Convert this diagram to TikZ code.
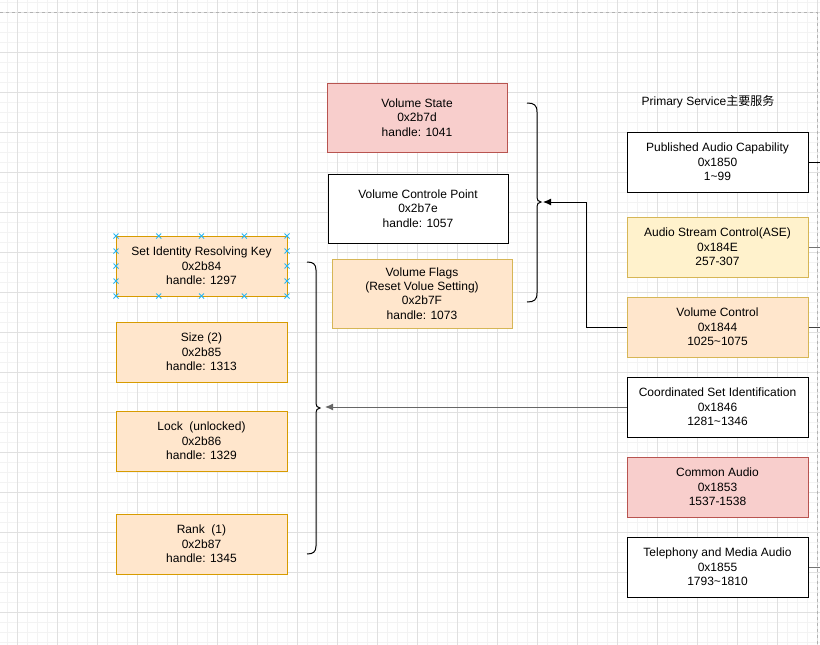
\documentclass[tikz,border=0pt]{standalone}
\usepackage{fontspec}
\setmainfont{Liberation Sans}
\newfontfamily\cjk{Noto Sans CJK SC}
\usepackage{xcolor}
\usetikzlibrary{arrows.meta}
\usetikzlibrary{math}
\definecolor{redfill}{HTML}{F8CECC}
\definecolor{redline}{HTML}{B85450}
\definecolor{orangefill}{HTML}{FFE6CC}
\definecolor{orangeline}{HTML}{D79B00}
\definecolor{yellowfill}{HTML}{FFF2CC}
\definecolor{yellowline}{HTML}{D6B656}
\definecolor{handleblue}{HTML}{29B6F2}
\definecolor{gridmajor}{HTML}{E0E0E0}
\definecolor{gridminor}{HTML}{F3F3F3}

\begin{document}
\begin{tikzpicture}[x=1pt,y=-1pt,
  box/.style={draw, line width=1pt, align=center, inner sep=0pt,
    minimum width=180pt, minimum height=69pt, font=\fontsize{12}{14.3}\selectfont},
  svcbox/.style={box, minimum width=181pt, minimum height=60pt},
  charbox/.style={box, minimum width=171pt, minimum height=60pt},
  redbox/.style={fill=redfill, draw=redline},
  orangebox/.style={fill=orangefill, draw=orangeline},
  peachbox/.style={fill=orangefill, draw=yellowline},
  yellowbox/.style={fill=yellowfill, draw=yellowline},
  whitebox/.style={fill=white, draw=black},
  conn/.style={line width=1pt, -{Latex[length=8pt,width=7pt]}},
  brace/.style={line width=1pt},
  handle/.style={draw=handleblue, line width=0.8pt}
]
\tikzmath{
\W=820;
\H=645;
}
\useasboundingbox (0,0) rectangle (\W,\H);
\fill[white] (0,0) rectangle (\W,\H);

%grid
\foreach \i in {0,...,81}
  \draw[gridminor, line width=0.7pt] (\i*10+7,0) -- (\i*10+7,\H);
\foreach \i in {0,...,64}
  \draw[gridminor, line width=0.7pt] (0,\i*10+2) -- (\W,\i*10+2);
\foreach \i in {0,...,20}
  \draw[gridmajor, line width=0.8pt] (\i*40+17,0) -- (\i*40+17,\H);
\foreach \i in {0,...,16}
  \draw[gridmajor, line width=0.8pt] (0,\i*40+12) -- (\W,\i*40+12);
%page border
\draw[black!30, dashed, line width=0.8pt] (0,12) -- (817,12) -- (817,\H);

%title
\node[font=\fontsize{12}{14.3}\selectfont] (title) at (708,102) {Primary Service{\cjk 主要服务}};

%primary services
\node[svcbox, whitebox] (pac) at (717.5,162) {Published Audio Capability\\0x1850\\1\textasciitilde 99};
\node[svcbox, yellowbox] (ascs) at (717.5,247) {Audio Stream Control(ASE)\\0x184E\\257-307};
\node[svcbox, peachbox] (vcs) at (717.5,327) {Volume Control\\0x1844\\1025\textasciitilde 1075};
\node[svcbox, whitebox] (csis) at (717.5,407) {Coordinated Set Identification\\0x1846\\1281\textasciitilde 1346};
\node[svcbox, redbox] (cas) at (717.5,487) {Common Audio\\0x1853\\1537-1538};
\node[svcbox, whitebox] (tmas) at (717.5,567) {Telephony and Media Audio\\0x1855\\1793\textasciitilde 1810};

%volume control characteristics
\node[box, redbox] (vstate) at (417,117.5) {Volume State\\0x2b7d\\handle: 1041};
\node[box, whitebox] (vcp) at (418,208.5) {Volume Controle Point\\0x2b7e\\handle: 1057};
\node[box, peachbox] (vflags) at (422,293.5) {Volume Flags\\(Reset Volue Setting)\\0x2b7F\\handle: 1073};

%coordinated set characteristics
\node[charbox, orangebox] (sirk) at (201.5,266) {Set Identity Resolving Key\\0x2b84\\handle: 1297};
\node[charbox, orangebox] (size) at (201.5,352) {Size (2)\\0x2b85\\handle: 1313};
\node[charbox, orangebox] (lock) at (201.5,441) {Lock\ \ (unlocked)\\0x2b86\\handle: 1329};
\node[charbox, orangebox] (rank) at (201.5,544) {Rank\ \ (1)\\0x2b87\\handle: 1345};

%selection handles
\foreach \hx in {116,158.75,201.5,244.25,287}
  \foreach \hy in {236,296}
    \draw[handle] (\hx-2.5,\hy-2.5) -- (\hx+2.5,\hy+2.5) (\hx-2.5,\hy+2.5) -- (\hx+2.5,\hy-2.5);
\foreach \hx in {116,287}
  \foreach \hy in {251,266,281}
    \draw[handle] (\hx-2.5,\hy-2.5) -- (\hx+2.5,\hy+2.5) (\hx-2.5,\hy+2.5) -- (\hx+2.5,\hy-2.5);

%braces
\draw[brace] (527,103) .. controls (534,103) and (537,105) .. (537,112) -- (537,195)
  .. controls (537,200) and (538,202) .. (541,202) .. controls (538,202) and (537,204) .. (537,209)
  -- (537,293) .. controls (537,300) and (534,302) .. (527,302);
\draw[brace] (307,262) .. controls (313,262) and (316,264) .. (316,270) -- (316,401)
  .. controls (316,406) and (317,408) .. (320,408) .. controls (317,408) and (316,410) .. (316,415)
  -- (316,546) .. controls (316,552) and (313,554) .. (307,554);
\coordinate (vtip) at (543,202);
\coordinate (ctip) at (325,407);

%connectors
\draw[conn, black] (vcs.west) -- ++(-40,0) |- (vtip);
\draw[conn, black!60] (csis.west) -- (ctip);
\coordinate (pacout) at (\W,162);
\coordinate (ascsout) at (\W,247);
\coordinate (vcsout) at (\W,327);
\coordinate (tmasout) at (\W,567);
\draw[line width=1pt, black] (pac.east) -- (pacout);
\draw[line width=1pt, black!55] (ascs.east) -- (ascsout);
\draw[line width=1pt, black!75] (vcs.east) -- (vcsout);
\draw[line width=1pt, black!55] (tmas.east) -- (tmasout);
\end{tikzpicture}
\end{document}
